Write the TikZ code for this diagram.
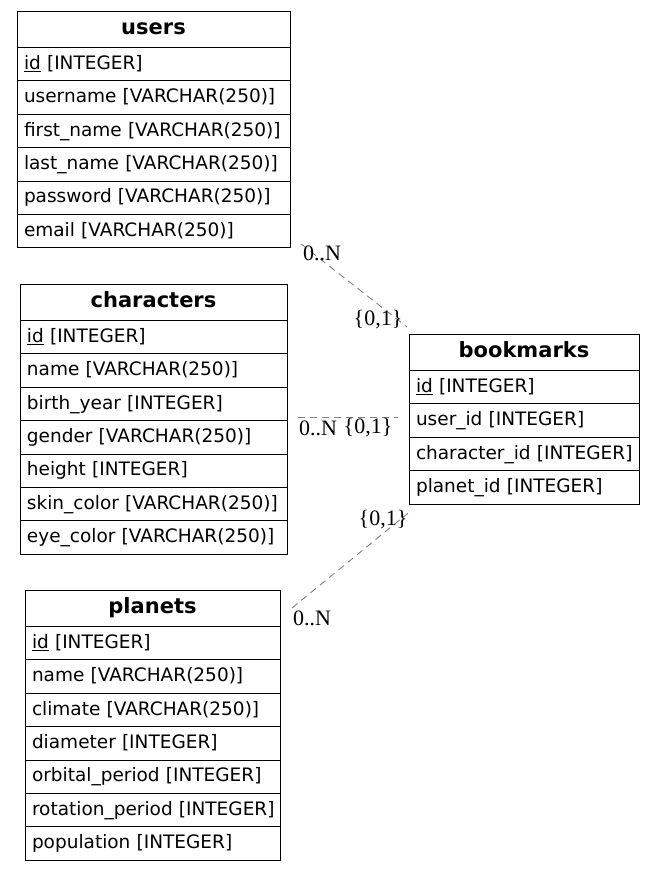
\documentclass[tikz,border=0pt]{standalone}
\usepackage{fontspec}
\setmainfont{Liberation Serif}
\setsansfont{DejaVu Sans}
\usepackage{tikz}
\usetikzlibrary{positioning}

\tikzset{
    tblhead/.style={draw, line width=1pt, outer sep=0pt, anchor=north west, inner xsep=7pt, inner ysep=0pt,
        minimum height=36.5pt, text height=14pt, text depth=4pt, align=center,
        font=\sffamily\bfseries\fontsize{21}{24}\selectfont},
    tblrow/.style={tblhead, minimum height=33.4pt, align=left,
        font=\sffamily\fontsize{18.5}{22}\selectfont,
        execute at begin node=\hbox\bgroup, execute at end node=\egroup},
    relline/.style={draw=gray, dash pattern=on 7pt off 5pt, line width=0.9pt},
    card/.style={font=\fontsize{22}{25}\selectfont, inner sep=0pt}
}

\begin{document}
\begin{tikzpicture}[x=1pt, y=-1pt]
                    % Page
                    \useasboundingbox (0,0) rectangle (655,870);
                    % Users table
                    \begin{scope}[text width=259pt]
                    \node[tblhead] (us-head) at (17,11) {users};
                    \node[tblrow] (us-id) at (us-head.south west) {\underline{id} [INTEGER]};
                    \node[tblrow] (us-user) at (us-id.south west) {username [VARCHAR(250)]};
                    \node[tblrow] (us-first) at (us-user.south west) {first\_name [VARCHAR(250)]};
                    \node[tblrow] (us-last) at (us-first.south west) {last\_name [VARCHAR(250)]};
                    \node[tblrow] (us-pass) at (us-last.south west) {password [VARCHAR(250)]};
                    \node[tblrow] (us-mail) at (us-pass.south west) {email [VARCHAR(250)]};
                    \end{scope}
                    % Characters table
                    \begin{scope}[text width=253pt]
                    \node[tblhead] (ch-head) at (20,284) {characters};
                    \node[tblrow] (ch-id) at (ch-head.south west) {\underline{id} [INTEGER]};
                    \node[tblrow] (ch-name) at (ch-id.south west) {name [VARCHAR(250)]};
                    \node[tblrow] (ch-birth) at (ch-name.south west) {birth\_year [INTEGER]};
                    \node[tblrow] (ch-gender) at (ch-birth.south west) {gender [VARCHAR(250)]};
                    \node[tblrow] (ch-height) at (ch-gender.south west) {height [INTEGER]};
                    \node[tblrow] (ch-skin) at (ch-height.south west) {skin\_color [VARCHAR(250)]};
                    \node[tblrow] (ch-eye) at (ch-skin.south west) {eye\_color [VARCHAR(250)]};
                    \end{scope}
                    % Bookmarks table
                    \begin{scope}[text width=216pt]
                    \node[tblhead] (bm-head) at (409,334) {bookmarks};
                    \node[tblrow] (bm-id) at (bm-head.south west) {\underline{id} [INTEGER]};
                    \node[tblrow] (bm-user) at (bm-id.south west) {user\_id [INTEGER]};
                    \node[tblrow] (bm-char) at (bm-user.south west) {character\_id [INTEGER]};
                    \node[tblrow] (bm-planet) at (bm-char.south west) {planet\_id [INTEGER]};
                    \end{scope}
                    % Planets table
                    \begin{scope}[text width=241pt]
                    \node[tblhead] (pl-head) at (25,590) {planets};
                    \node[tblrow] (pl-id) at (pl-head.south west) {\underline{id} [INTEGER]};
                    \node[tblrow] (pl-name) at (pl-id.south west) {name [VARCHAR(250)]};
                    \node[tblrow] (pl-climate) at (pl-name.south west) {climate [VARCHAR(250)]};
                    \node[tblrow] (pl-diam) at (pl-climate.south west) {diameter [INTEGER]};
                    \node[tblrow] (pl-orbit) at (pl-diam.south west) {orbital\_period [INTEGER]};
                    \node[tblrow] (pl-rot) at (pl-orbit.south west) {rotation\_period [INTEGER]};
                    \node[tblrow] (pl-pop) at (pl-rot.south west) {population [INTEGER]};
                    \end{scope}
                    % Relations
                    \draw[relline] ([shift={(11,-4)}]us-mail.south east) -- ([shift={(-2,-7)}]bm-head.north west);
                    \coordinate (ch-end) at ([shift={(11,-3)}]ch-birth.south east);
                    \draw[relline, shorten >=11pt] (ch-end) -- (ch-end -| bm-user.west);
                    \draw[relline] ([shift={(12,18)}]pl-head.north east) -- ([shift={(-1,9)}]bm-planet.south west);
                    % Cardinalities
                    \node[card] (us-card) at (322,253) {0..N};
                    \node[card] (us-bm-card) at (378,320) {\{0,1\}};
                    \node[card] (ch-card) at (318,428) {0..N};
                    \node[card] (ch-bm-card) at (368,428) {\{0,1\}};
                    \node[card] (pl-bm-card) at (383,520) {\{0,1\}};
                    \node[card] (pl-card) at (312,618) {0..N};
                \end{tikzpicture}
\end{document}
